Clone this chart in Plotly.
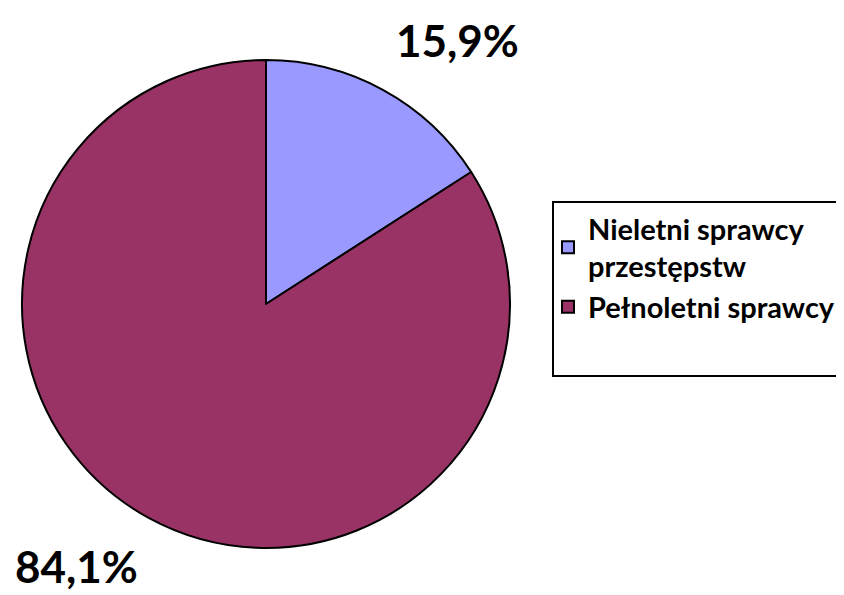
import plotly.graph_objects as go

labels = ["Nieletni sprawcy<br>przestępstw", "Pełnoletni sprawcy"]
values = [15.9, 84.1]
colors = ["#9999FF", "#993366"]
value_texts = [f"{v:.1f}%".replace(".", ",") for v in values]

W, H = 844, 595
OFF = 8  # page body margin


def px(x):
    return (x - OFF) / W


def py(y):
    return 1 - (y - OFF) / H


fig = go.Figure(go.Pie(
    labels=[f"<b>{l}</b>" for l in labels],
    values=values,
    sort=False,
    direction="clockwise",
    rotation=0,
    textinfo="none",
    hoverinfo="label+percent",
    marker=dict(colors=colors, line=dict(color="black", width=2)),
    domain=dict(x=[px(22), px(510)], y=[py(548), py(60)]),
))

# value labels
label_pos = [(457, 40), (76, 566)]
for t, (lx, ly) in zip(value_texts, label_pos):
    fig.add_annotation(
        x=px(lx), y=py(ly), xref="paper", yref="paper",
        text=f"<b>{t}</b>", showarrow=False,
        font=dict(family="Lato", size=44, color="black"),
        xanchor="center", yanchor="middle",
    )

# legend frame
fig.add_shape(type="rect", xref="paper", yref="paper",
              x0=px(553), x1=px(870), y0=py(376), y1=py(202),
              line=dict(color="black", width=2), fillcolor="rgba(0,0,0,0)")

fig.update_layout(
    width=W, height=H,
    margin=dict(l=0, r=0, t=0, b=0),
    paper_bgcolor="white",
    plot_bgcolor="white",
    showlegend=True,
    legend=dict(
        x=px(548), y=py(203), xanchor="left", yanchor="top",
        font=dict(family="Lato", size=29, color="black"),
        bgcolor="rgba(0,0,0,0)", borderwidth=0,
    ),
)

fig.write_html("out.html")
